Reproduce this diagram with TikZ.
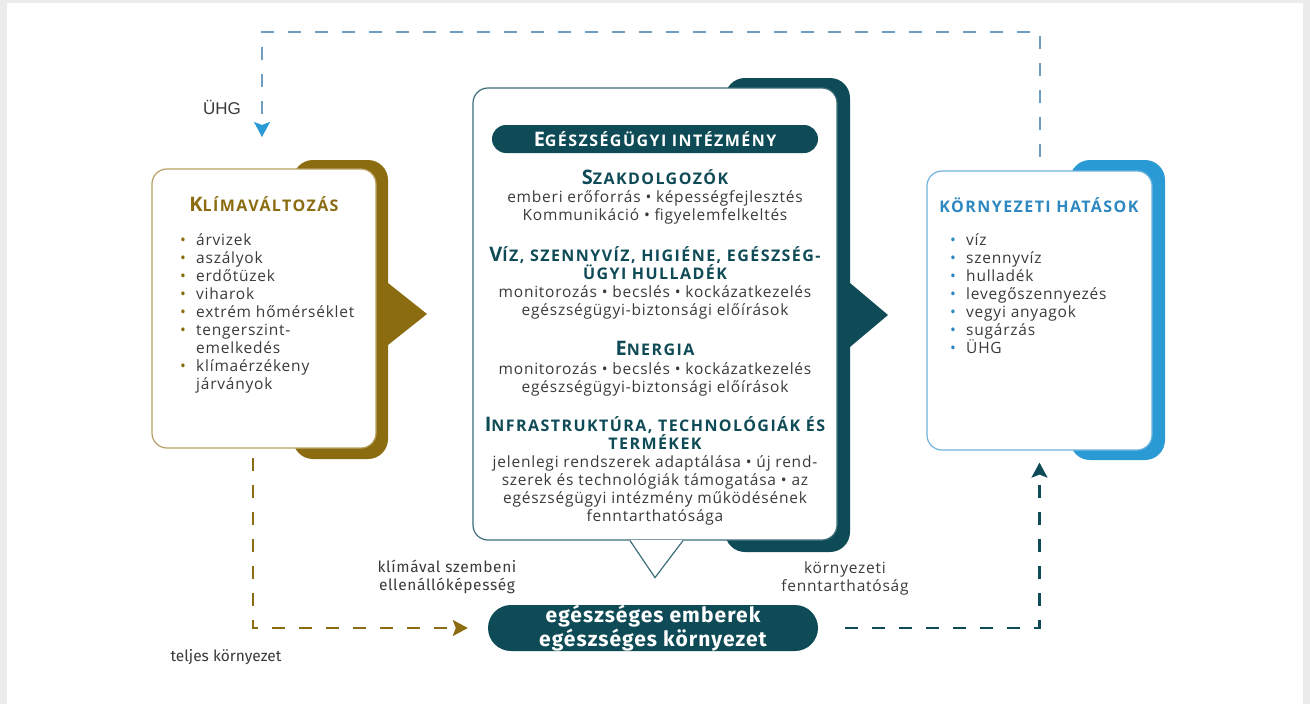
\documentclass[tikz,border=0pt]{standalone}
\usepackage{fontspec}
\setmainfont{Open Sans}
\newfontfamily\dinfont{Fira Sans}
\newfontfamily\ariafont{Liberation Sans}
\usetikzlibrary{arrows.meta}
\definecolor{klimagold}{HTML}{8B6C10}
\definecolor{klimaline}{HTML}{B8A065}
\definecolor{intezteal}{HTML}{0F4B56}
\definecolor{intezline}{HTML}{3B6E79}
\definecolor{kornyblue}{HTML}{2A9AD5}
\definecolor{kornyline}{HTML}{6FB3DD}
\definecolor{kornytitle}{HTML}{2D87C0}
\definecolor{uhgline}{HTML}{6E9DC0}
\definecolor{szovegszin}{HTML}{3A3A3A}
\newcommand{\kap}[2]{{\fontsize{20}{20}\selectfont #1}{\fontsize{16}{20}\selectfont\addfontfeatures{LetterSpace=9}#2}}
\newcommand{\pont}[1]{\makebox[16pt][l]{\textcolor{#1}{•}}}
\newcommand{\tovabb}{\hspace*{16pt}}
\newcommand{\ritka}{\fontsize{15.5}{18}\selectfont\addfontfeatures{LetterSpace=5}}
\begin{document}
\begin{tikzpicture}[x=1pt,y=-1pt,
  keret/.style={rounded corners=20pt,inner sep=0pt},
  doboz/.style={fill=white,rounded corners=15pt,line width=1.2pt,inner sep=0pt},
  cim/.style={font=\bfseries,inner sep=0pt,align=center},
  szoveg/.style={align=center,text=szovegszin,font=\ritka,inner sep=0pt},
  lista/.style={align=left,text=szovegszin,font=\ritka,inner sep=0pt,anchor=north west},
  szagg/.style={dash pattern=on 13pt off 14pt,line width=2.3pt},
  hegy/.style={-{Stealth[length=15pt,width=16pt,inset=3pt,color=#1]}},
  cimke/.style={text=szovegszin,align=center,inner sep=0pt}]
\fill[black!8] (0,0) rectangle (1310,704);
\fill[white] (7,3) rectangle (1303,704);
\useasboundingbox (0,0) rectangle (1310,704);

\node[keret,fill=klimagold,minimum width=95pt,minimum height=299pt] (kkeret) at (340.5,309.5) {};
\fill[klimagold] (388,283) -- (427,314) -- (388,345) -- cycle;
\node[doboz,draw=klimaline,minimum width=224pt,minimum height=279pt] (klima) at (264,308.5) {};
\node[cim,text=klimagold] (klimacim) at (264,204) {\kap{K}{LÍMAVÁLTOZÁS}};
\node[lista] (klimalista) at (180,233) {\pont{klimagold}árvizek\\
  \pont{klimagold}aszályok\\
  \pont{klimagold}erdőtüzek\\
  \pont{klimagold}viharok\\
  \pont{klimagold}extrém hőmérséklet\\
  \pont{klimagold}tengerszint-\\
  \tovabb emelkedés\\
  \pont{klimagold}klímaérzékeny\\
  \tovabb járványok};

\node[keret,fill=intezteal,minimum width=125pt,minimum height=474pt] (ikeret) at (787.5,315) {};
\fill[intezteal] (850,283) -- (888,315) -- (850,347) -- cycle;
\node[doboz,draw=intezline,minimum width=364pt,minimum height=452pt] (intez) at (655,314) {};
\fill[white] ([xshift=-25pt,yshift=0.6pt]intez.south) -- ([yshift=-37pt]intez.south) -- ([xshift=28pt,yshift=0.6pt]intez.south) -- cycle;
\draw[intezline,line width=1.2pt] ([xshift=-25pt]intez.south) -- ([yshift=-37pt]intez.south) -- ([xshift=28pt]intez.south);
\node[cim,fill=intezteal,rounded corners=14pt,minimum width=326pt,minimum height=28pt,text=white] (intezcim) at (655,139) {\kap{E}{GÉSZSÉGÜGYI INTÉZMÉNY}};
\node[cim,text=intezteal] (szak) at (655,177) {\kap{S}{ZAKDOLGOZÓK}};
\node[szoveg] (szaktxt) at (655,207) {emberi erőforrás • képességfejlesztés\\Kommunikáció • figyelemfelkeltés};
\node[cim,text=intezteal] (viz) at (655,263.5) {\kap{V}{ÍZ, SZENNYVÍZ, HIGIÉNE, EGÉSZSÉG-}\\\kap{}{ÜGYI HULLADÉK}};
\node[szoveg] (viztxt) at (655,302) {monitorozás • becslés • kockázatkezelés\\egészségügyi-biztonsági előírások};
\node[cim,text=intezteal] (ener) at (655,348) {\kap{E}{NERGIA}};
\node[szoveg] (enertxt) at (655,379) {monitorozás • becslés • kockázatkezelés\\egészségügyi-biztonsági előírások};
\node[cim,text=intezteal] (infra) at (655,433) {\kap{I}{NFRASTRUKTÚRA, TECHNOLÓGIÁK ÉS}\\\kap{}{TERMÉKEK}};
\node[szoveg] (infratxt) at (655,490) {jelenlegi rendszerek adaptálása • új rend-\\szerek és technológiák támogatása • az\\egészségügyi intézmény működésének\\fenntarthatósága};

\node[keret,fill=kornyblue,minimum width=95pt,minimum height=300pt] (kokeret) at (1117.5,310) {};
\node[doboz,draw=kornyline,minimum width=225pt,minimum height=279pt] (korny) at (1039.5,310.5) {};
\node[cim,text=kornytitle] (kornycim) at (1039,205) {\kap{}{KÖRNYEZETI HATÁSOK}};
\node[lista] (kornylista) at (950,233) {\pont{kornytitle}víz\\
  \pont{kornytitle}szennyvíz\\
  \pont{kornytitle}hulladék\\
  \pont{kornytitle}levegőszennyezés\\
  \pont{kornytitle}vegyi anyagok\\
  \pont{kornytitle}sugárzás\\
  \pont{kornytitle}ÜHG};

\node[fill=intezteal,rounded corners=23pt,minimum width=330pt,minimum height=46pt,text=white,align=center,font=\dinfont\bfseries\fontsize{21}{21.5}\selectfont\addfontfeatures{LetterSpace=5},inner sep=0pt] (eg) at (653,628) {egészséges emberek\\egészséges környezet};

\coordinate (kki) at (253,458);
\coordinate (uhgfent) at (262,32);
\coordinate (uhgbe) at (262,137);
\draw[szagg,klimagold,hegy=klimagold] (kki) |- ([xshift=-20pt]eg.west);
\draw[szagg,intezteal,hegy=intezteal] ([xshift=27pt]eg.east) -| ([yshift=-12pt]korny.south);
\draw[szagg,uhgline,line width=2pt,hegy=kornyblue] ([yshift=13pt]korny.north) |- (uhgfent) -- (uhgbe);

\node[cimke,font=\ariafont\fontsize{17}{20}\selectfont] (uhg) at (222,107) {ÜHG};
\node[cimke,font=\dinfont\fontsize{15.5}{18}\selectfont] (teljes) at (226,657) {teljes környezet};
\node[cimke,font=\dinfont\fontsize{15.5}{18}\selectfont\addfontfeatures{LetterSpace=4}] (ellen) at (447,577) {klímával szembeni\\ellenállóképesség};
\node[cimke,font=\ritka] (fennt) at (845,578) {környezeti\\fenntarthatóság};
\end{tikzpicture}
\end{document}
